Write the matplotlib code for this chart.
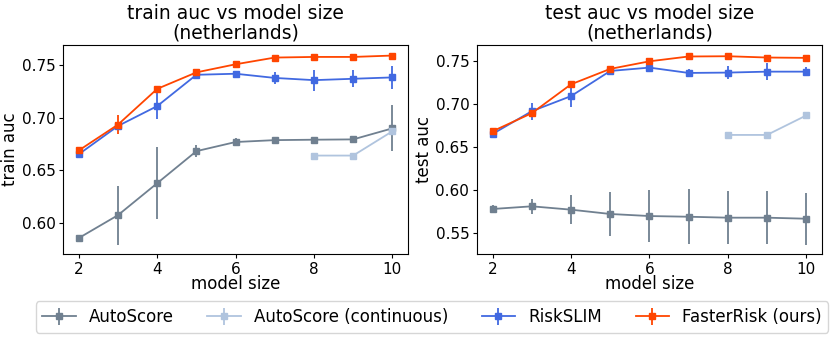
import numpy as np
import matplotlib.pyplot as plt

sizes = [2, 3, 4, 5, 6, 7, 8, 9, 10]
sizes_cont = [8, 9, 10]

# train auc
train_auto = [0.5856, 0.6074, 0.6378, 0.6683, 0.6770, 0.6788, 0.6792, 0.6795, 0.6900]
train_auto_err = [0.001, 0.028, 0.034, 0.006, 0.004, 0.003, 0.003, 0.003, 0.022]
train_cont = [0.6641, 0.6641, 0.6872]
train_cont_err = [0.001, 0.001, 0.002]
train_slim = [0.6654, 0.6923, 0.7112, 0.7410, 0.7420, 0.7380, 0.7359, 0.7372, 0.7385]
train_slim_err = [0.002, 0.003, 0.012, 0.003, 0.002, 0.006, 0.010, 0.008, 0.011]
train_fr = [0.6690, 0.6936, 0.7276, 0.7433, 0.7510, 0.7574, 0.7580, 0.7580, 0.7593]
train_fr_err = [0.001, 0.009, 0.001, 0.002, 0.001, 0.001, 0.001, 0.002, 0.001]

# test auc
test_auto = [0.5780, 0.5811, 0.5772, 0.5722, 0.5698, 0.5690, 0.5679, 0.5679, 0.5667]
test_auto_err = [0.005, 0.009, 0.017, 0.025, 0.030, 0.032, 0.031, 0.031, 0.030]
test_cont = [0.6640, 0.6640, 0.6866]
test_cont_err = [0.002, 0.002, 0.002]
test_slim = [0.6652, 0.6916, 0.7091, 0.7383, 0.7422, 0.7360, 0.7364, 0.7375, 0.7375]
test_slim_err = [0.005, 0.010, 0.013, 0.002, 0.003, 0.005, 0.008, 0.010, 0.005]
test_fr = [0.6683, 0.6893, 0.7228, 0.7407, 0.7495, 0.7551, 0.7554, 0.7539, 0.7535]
test_fr_err = [0.003, 0.004, 0.002, 0.003, 0.002, 0.002, 0.002, 0.002, 0.002]

labels = ['AutoScore', 'AutoScore (continuous)', 'RiskSLIM', 'FasterRisk (ours)']
colors = ['slategray', 'lightsteelblue', 'royalblue', 'orangered']

fig, axes = plt.subplots(1, 2, figsize=(8.31, 3.41), dpi=100)
fig.subplots_adjust(left=0.076, right=0.989, top=0.868, bottom=0.255, wspace=0.2)

panels = [
    (axes[0], 'train', [(sizes, train_auto, train_auto_err), (sizes_cont, train_cont, train_cont_err),
                        (sizes, train_slim, train_slim_err), (sizes, train_fr, train_fr_err)]),
    (axes[1], 'test', [(sizes, test_auto, test_auto_err), (sizes_cont, test_cont, test_cont_err),
                       (sizes, test_slim, test_slim_err), (sizes, test_fr, test_fr_err)]),
]

for ax, name, series in panels:
    for (xs, ys, es), lab, c in zip(series, labels, colors):
        ax.errorbar(xs, ys, yerr=es, marker='s', markersize=5, color=c, label=lab, linewidth=1.3)
    ax.set_title('%s auc vs model size\n(netherlands)' % name, fontsize=13.5, linespacing=1.0, pad=5)
    ax.set_xlabel('model size', fontsize=12, labelpad=-1)
    ax.set_ylabel('%s auc' % name, fontsize=12, labelpad=2)
    ax.set_xticks([2, 4, 6, 8, 10])
    ax.tick_params(labelsize=11, length=3, pad=2.5)

axes[0].set_yticks([0.60, 0.65, 0.70, 0.75])
axes[1].set_yticks([0.55, 0.60, 0.65, 0.70, 0.75])

handles, labs = axes[0].get_legend_handles_labels()
fig.legend(handles, labs, loc='lower center', ncol=4, fontsize=12, bbox_to_anchor=(0.52, 0.0))

plt.savefig('out.png', dpi=100)
